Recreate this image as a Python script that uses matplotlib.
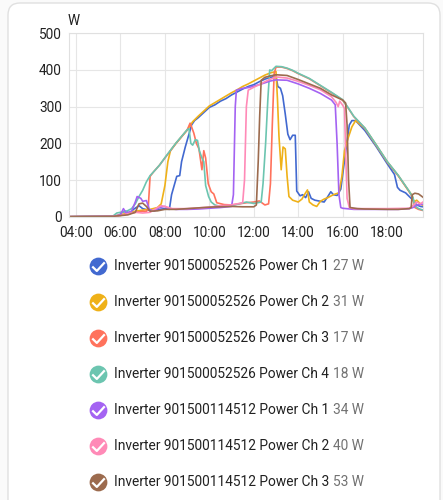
import matplotlib
matplotlib.use("Agg")
import matplotlib.pyplot as plt
from matplotlib.patches import FancyBboxPatch
from matplotlib.lines import Line2D
from matplotlib.path import Path

plt.rcParams['font.family'] = ['Roboto', 'DejaVu Sans']

# --- DATA (time "HH:MM", watts) ---
blue_t = ["03:41", "05:40", "05:55", "06:05", "06:15", "06:25", "06:35", "06:50", "07:00", "07:15", "07:30", "07:45",
          "08:00", "08:12", "08:18", "08:25", "08:32", "08:40", "08:45", "08:55", "09:05", "09:12", "09:20", "09:30",
          "09:45", "10:00", "10:15", "10:30", "10:45", "11:00", "11:15", "11:30", "11:45", "12:00", "12:15", "12:30",
          "12:45", "13:00", "13:05", "13:12", "13:18", "13:25", "13:32", "13:38", "13:45", "13:52", "13:56", "14:05",
          "14:12", "14:20", "14:28", "14:35", "14:45", "15:00", "15:10", "15:20", "15:28", "15:35", "15:45", "15:55",
          "16:02", "16:10", "16:18", "16:25", "16:35", "17:00", "17:30", "18:00", "18:20", "18:28", "18:35", "18:50",
          "19:00", "19:10", "19:20", "19:30", "19:37"]
blue_v = [0, 2, 3, 12, 15, 8, 20, 30, 22, 18, 16, 20,
          22, 20, 60, 85, 110, 112, 150, 190, 225, 250, 262, 270,
          284, 298, 305, 315, 322, 332, 340, 348, 355, 360, 368, 375,
          380, 383, 355, 350, 330, 280, 225, 210, 222, 222, 70, 57,
          60, 52, 68, 50, 45, 42, 40, 55, 68, 60, 58, 75,
          130, 190, 250, 262, 262, 235, 192, 145, 115, 80, 72, 65,
          55, 45, 32, 28, 27]

orange_t = ["03:41", "05:40", "06:00", "06:20", "06:40", "07:00", "07:20", "07:40", "07:50", "08:00", "08:08", "08:15",
            "08:30", "08:45", "09:00", "09:15", "09:30", "09:45", "10:00", "10:15", "10:30", "10:45", "11:00", "11:15",
            "11:30", "11:45", "12:00", "12:15", "12:30", "12:45", "13:00", "13:04", "13:08", "13:14", "13:19", "13:25",
            "13:30", "13:35", "13:45", "14:00", "14:10", "14:18", "14:25", "14:30", "14:40", "14:50", "15:00", "15:10",
            "15:20", "15:35", "15:50", "15:58", "16:05", "16:15", "16:25", "16:35", "17:00", "17:30", "18:00", "18:30",
            "19:00", "19:08", "19:12", "19:20", "19:30", "19:37"]
orange_v = [0, 1, 5, 10, 15, 18, 20, 25, 35, 85, 150, 180,
            200, 218, 236, 259, 274, 288, 302, 311, 320, 329, 338, 346,
            355, 362, 370, 378, 386, 392, 396, 320, 220, 128, 190, 185,
            110, 55, 45, 40, 48, 62, 73, 40, 32, 28, 42, 48,
            52, 60, 65, 110, 180, 215, 245, 262, 241, 196, 150, 112,
            68, 58, 40, 45, 35, 31]

red_t = ["03:41", "05:40", "06:00", "06:20", "06:40", "07:00", "07:10", "07:15", "07:20", "07:30", "07:45", "08:00",
         "08:15", "08:30", "08:45", "09:00", "09:08", "09:12", "09:18", "09:25", "09:32", "09:40", "09:45", "09:50",
         "09:57", "10:05", "10:12", "10:20", "10:40", "11:00", "11:20", "11:40", "12:00", "12:15", "12:30", "12:40",
         "12:45", "12:50", "12:55", "13:00", "13:15", "13:30", "13:45", "14:00", "14:30", "15:00", "15:30", "16:00",
         "16:15", "16:30", "17:00", "17:30", "18:00", "18:30", "19:00", "19:10", "19:15", "19:25", "19:37"]
red_v = [0, 1, 4, 8, 12, 15, 14, 25, 110, 123, 140, 160,
         180, 200, 218, 236, 255, 245, 228, 200, 185, 128, 180, 160,
         90, 68, 62, 38, 33, 32, 35, 38, 40, 43, 32, 35,
         90, 250, 390, 408, 408, 404, 398, 390, 376, 357, 338, 318,
         296, 273, 241, 196, 150, 112, 68, 50, 25, 20, 17]

green_t = ["03:41", "05:40", "05:50", "06:00", "06:15", "06:30", "06:40", "06:50", "07:00", "07:10", "07:20", "07:30",
           "07:45", "08:00", "08:15", "08:30", "08:45", "09:00", "09:05", "09:10", "09:15", "09:22", "09:28", "09:33",
           "09:40", "09:45", "09:50", "09:58", "10:05", "10:15", "10:30", "11:00", "11:20", "11:40", "12:00", "12:20",
           "12:25", "12:32", "12:38", "12:43", "12:48", "12:55", "13:00", "13:15", "13:30", "13:45", "14:00", "14:30",
           "15:00", "15:30", "16:00", "16:15", "16:30", "17:00", "17:30", "18:00", "18:30", "19:00", "19:10", "19:15",
           "19:25", "19:37"]
green_v = [0, 2, 10, 12, 14, 22, 35, 55, 72, 95, 112, 123,
           140, 161, 181, 201, 219, 237, 240, 200, 195, 210, 208, 180,
           160, 150, 85, 55, 40, 32, 28, 30, 35, 40, 36, 40,
           90, 200, 320, 400, 398, 405, 410, 409, 405, 399, 391, 377,
           358, 339, 319, 297, 274, 242, 197, 151, 113, 69, 52, 30,
           22, 18]

purple_t = ["03:41", "05:40", "06:00", "06:08", "06:15", "06:30", "06:40", "06:45", "06:55", "07:00", "07:10", "07:18",
            "07:30", "07:45", "08:00", "08:10", "08:30", "09:00", "09:30", "10:00", "10:30", "11:00", "11:05", "11:10",
            "11:13", "11:30", "11:45", "12:00", "12:15", "12:30", "12:45", "13:00", "13:30", "14:00", "14:30", "15:00",
            "15:30", "15:40", "15:45", "15:50", "15:55", "16:00", "16:30", "17:00", "18:00", "18:30", "19:00", "19:10",
            "19:20", "19:37"]
purple_v = [0, 1, 5, 22, 10, 15, 40, 55, 50, 42, 44, 20,
            15, 25, 28, 22, 20, 20, 21, 23, 25, 28, 60, 300,
            345, 350, 352, 356, 360, 365, 370, 373, 372, 362, 350, 336,
            318, 305, 200, 60, 25, 23, 20, 20, 20, 20, 22, 25,
            32, 34]

pink_t = ["03:41", "05:40", "06:00", "06:20", "06:40", "07:00", "07:20", "07:40", "07:50", "08:00", "08:20", "09:00",
          "09:30", "10:00", "10:30", "11:00", "11:20", "11:30", "11:35", "11:40", "11:45", "12:00", "12:15", "12:30",
          "12:45", "13:00", "13:30", "14:00", "14:30", "15:00", "15:30", "15:42", "15:48", "15:52", "16:00", "16:05",
          "16:08", "16:12", "16:18", "16:30", "17:00", "18:00", "19:00", "19:10", "19:20", "19:30", "19:37"]
pink_v = [0, 1, 3, 8, 12, 10, 12, 25, 30, 28, 22, 22,
          24, 26, 30, 32, 36, 38, 100, 300, 345, 353, 360, 368,
          375, 381, 378, 369, 358, 346, 327, 312, 300, 315, 304, 295,
          180, 50, 25, 22, 22, 22, 23, 30, 40, 35, 40]

brown_t = ["03:41", "05:40", "06:00", "06:20", "06:40", "06:50", "07:00", "07:10", "07:20", "07:40", "08:00", "08:30",
           "09:00", "09:30", "10:00", "10:30", "11:00", "11:30", "12:00", "12:07", "12:12", "12:16", "12:20", "12:30",
           "12:45", "13:00", "13:30", "14:00", "14:30", "15:00", "15:30", "16:00", "16:08", "16:12", "16:16", "16:20",
           "16:40", "17:00", "18:00", "18:30", "19:00", "19:05", "19:08", "19:15", "19:25", "19:37"]
brown_v = [0, 1, 3, 5, 12, 35, 37, 28, 15, 16, 20, 20,
           22, 24, 26, 27, 28, 27, 27, 32, 150, 275, 372, 380,
           384, 387, 385, 374, 362, 350, 332, 318, 310, 250, 100, 25,
           22, 21, 20, 20, 22, 25, 60, 64, 62, 53]

series_names = ["Inverter 901500052526 Power Ch 1", "Inverter 901500052526 Power Ch 2",
                "Inverter 901500052526 Power Ch 3", "Inverter 901500052526 Power Ch 4",
                "Inverter 901500114512 Power Ch 1", "Inverter 901500114512 Power Ch 2",
                "Inverter 901500114512 Power Ch 3"]
current_values = ["27 W", "31 W", "17 W", "18 W", "34 W", "40 W", "53 W"]
colors = ["#4269d0", "#efb118", "#ff725c", "#6cc5b0", "#a463f2", "#ff8ab7", "#9c6b4e"]
all_t = [blue_t, orange_t, red_t, green_t, purple_t, pink_t, brown_t]
all_v = [blue_v, orange_v, red_v, green_v, purple_v, pink_v, brown_v]

x_ticks = ["04:00", "06:00", "08:00", "10:00", "12:00", "14:00", "16:00", "18:00"]


def to_hours(s):
    h, m = s.split(":")
    return int(h) + int(m) / 60


# --- FIGURE ---
W, H = 443, 500
fig = plt.figure(figsize=(W / 100, H / 100), dpi=100, facecolor="#fafafa")

# card background (pixel coords), behind the axes
card = FancyBboxPatch((8, -20), 432, H - 3 + 20, boxstyle="round,pad=0,rounding_size=12",
                      transform=None, facecolor="white", edgecolor="#e0e0e0", linewidth=1, zorder=-5)
fig.add_artist(card)

ax = fig.add_axes([69 / W, 1 - 216.7 / H, (423 - 69) / W, (216.7 - 33.3) / H])
ax.set_zorder(2)
ax.set_facecolor("white")

for t, v, c in zip(all_t, all_v, colors):
    ax.plot([to_hours(s) for s in t], v, color=c, linewidth=1.2, solid_joinstyle="round")

ax.set_xlim(to_hours("03:41"), to_hours("19:37"))
ax.set_ylim(0, 500)
ax.set_yticks([0, 100, 200, 300, 400, 500])
ax.set_xticks([to_hours(s) for s in x_ticks])
ax.set_xticklabels(x_ticks)
ax.grid(True, color="#e6e6e6", linewidth=0.8)
ax.set_axisbelow(True)
for sp in ax.spines.values():
    sp.set_color("#e0e0e0")
    sp.set_linewidth(0.8)
ax.tick_params(length=0, labelsize=9.8, colors="#212121")
ax.tick_params(axis="y", pad=5)
ax.tick_params(axis="x", pad=7)
ax.text(-0.005, 1.03, "W", transform=ax.transAxes, fontsize=9.8, color="#212121", ha="left", va="bottom")

# --- LEGEND ---
check = Path([(-0.45, 0.0), (-0.12, -0.32), (0.45, 0.3)], [Path.MOVETO, Path.LINETO, Path.LINETO])
row_y = [266, 302, 338, 374, 410, 446, 482]
for name, val, c, y in zip(series_names, current_values, colors, row_y):
    yy = (H - y) / H
    fig.add_artist(Line2D([98 / W], [yy], marker="o", markersize=12.8, color=c, markeredgewidth=0,
                          transform=fig.transFigure))
    fig.add_artist(Line2D([98 / W], [yy], marker=check, markersize=9, markerfacecolor="none",
                          markeredgecolor="white", markeredgewidth=1.6, transform=fig.transFigure))
    txt = fig.text(114 / W, yy, name, fontsize=9.9, color="#212121", va="center", ha="left")
    fig.add_artist(plt.Annotation(val, xy=(1, 0.5), xycoords=txt, xytext=(4, 0), textcoords="offset pixels",
                                  fontsize=9.9, color="#727272", va="center", ha="left"))

fig.savefig("out.png", dpi=100, facecolor=fig.get_facecolor())
